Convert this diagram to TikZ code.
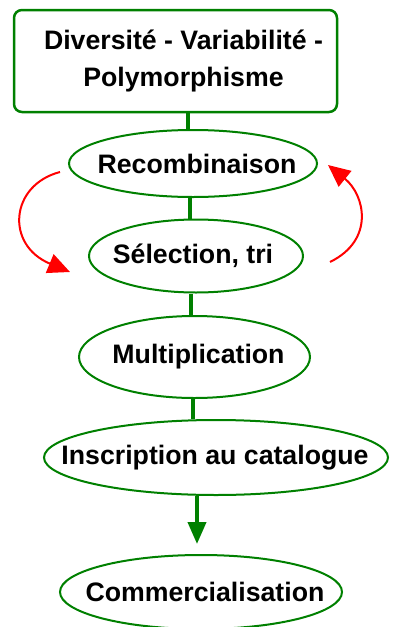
\documentclass[tikz,border=0pt]{standalone}
\usepackage{fontspec}
\setmainfont{Liberation Sans}
\usetikzlibrary{shapes.geometric,arrows.meta}
\definecolor{leaf}{RGB}{0,128,0}
% text of a stage, kept off the ellipse size, shifted by #1
\newcommand\stagetext[2][0pt]{\makebox[0pt]{\hspace*{#1}\hspace*{#1}#2}}
\begin{document}
\begin{tikzpicture}[x=1pt,y=-1pt,
    every node/.style={font=\fontsize{26.7}{37}\selectfont\bfseries, inner sep=0pt},
    stage/.style={ellipse, draw=leaf, line width=2pt},
    link/.style={draw=leaf, line width=4pt},
    cycle arrow/.style={draw=red, line width=2pt, -{Triangle[length=22pt,width=20pt]}}]
  % page frame
  \useasboundingbox (0,0) rectangle (410,627);

  % title box
  \node[draw=leaf, line width=2.5pt, rounded corners=8pt, minimum width=323pt,
        minimum height=102pt, align=center] (div) at (175.5,61)
        {\hspace*{16pt}Diversit\'e - Variabilit\'e -\\\hspace*{16pt}Polymorphisme};

  % stages
  \node[stage, minimum width=248pt, minimum height=67pt] (rec) at (193,163.5) {\stagetext[4pt]{Recombinaison}};
  \node[stage, minimum width=214pt, minimum height=73pt] (sel) at (196,256) {\stagetext[-3pt]{S\'election, tri}};
  \node[stage, minimum width=231pt, minimum height=82pt] (mult) at (194.5,357) {\stagetext[4pt]{Multiplication}};
  \node[stage, minimum width=344pt, minimum height=75pt] (insc) at (216,457.5) {\stagetext[-1pt]{Inscription au catalogue}};
  \node[stage, minimum width=282pt, minimum height=74pt] (comm) at (201,592) {\stagetext[4pt]{Commercialisation}};

  % green links
  \draw[link] ([xshift=-5pt]rec.north |- div.south) -- ([xshift=-5pt]rec.north);
  \draw[link] ([xshift=-3pt]rec.south) -- ([xshift=-3pt]rec.south |- sel.north);
  \draw[link] ([xshift=-5pt]sel.south) -- ([xshift=-5pt]sel.south |- mult.north);
  \draw[link] ([xshift=-2pt]mult.south) -- ([xshift=-2pt]mult.south |- insc.north);
  \draw[link, -{Triangle[length=22pt,width=18pt]}, shorten >=10pt]
       ([xshift=-19pt]insc.south) -- ([xshift=-19pt]insc.south |- comm.north);

  % red loop between recombinaison and selection
  \coordinate (loopA) at (60,172);
  \coordinate (loopB) at (70,272);
  \coordinate (loopC) at (330,262);
  \coordinate (loopD) at (328,165);
  \draw[cycle arrow] (loopA) .. controls (10,185) and (5,245) .. (loopB);
  \draw[cycle arrow] (loopC) .. controls (375,240) and (365,195) .. (loopD);
\end{tikzpicture}
\end{document}
